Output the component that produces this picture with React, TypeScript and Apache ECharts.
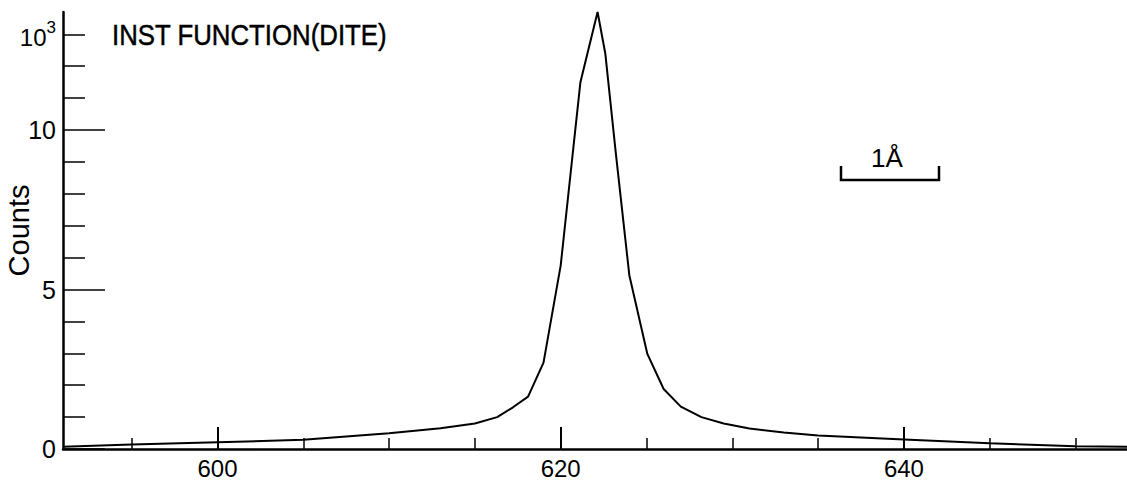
import React, { useEffect, useRef } from "react";
import * as echarts from "echarts";

const xValues = [591, 595, 600, 605, 610, 613, 615, 616.3, 617.2, 618.1, 619.0, 620.0, 621.15, 622.15, 622.6, 623.2, 624.0, 625.05, 626.0, 627.0, 628.2, 629.5, 631, 633, 635, 640, 645, 650, 653];
const yValues = [0.07, 0.14, 0.21, 0.29, 0.49, 0.65, 0.8, 1.0, 1.3, 1.64, 2.71, 5.75, 11.5, 13.7, 12.4, 9.34, 5.45, 2.98, 1.88, 1.33, 1.0, 0.8, 0.64, 0.52, 0.42, 0.3, 0.18, 0.09, 0.07];

const xMajorTicks = [600, 620, 640];
const xMinorTicks = [595, 605, 610, 615, 625, 630, 635, 645, 650];
const yMajorTicks = [0, 5, 10];
const yMinorTicks = [1, 2, 3, 4, 6, 7, 8, 9, 11, 12, 13];
const yLabelValues = [0, 5, 10, 13];

const titleText = "INST FUNCTION(DITE)";
const yName = "Counts";
const scaleText = "1Å";

const FONT = '"Liberation Sans", Arial, sans-serif';

export default function App() {
  const ref = useRef<HTMLDivElement>(null);
  useEffect(() => {
    document.body.style.margin = "0";
    const chart = echarts.init(ref.current!, null, { renderer: "svg" });
    const data = xValues.map((x, i) => [x, yValues[i]]);
    const baseX = {
      type: "value" as const,
      min: 591,
      max: 653,
      gridIndex: 0,
      splitLine: { show: false },
    };
    const baseY = {
      type: "value" as const,
      min: 0,
      max: 13.7,
      gridIndex: 0,
      splitLine: { show: false },
    };
    chart.setOption({
      animation: false,
      backgroundColor: "#fff",
      grid: { left: 63, right: 0, top: 12, bottom: 34, containLabel: false, outerBoundsMode: "none" },
      xAxis: [
        {
          ...baseX,
          axisLine: { show: true, lineStyle: { color: "#000", width: 2.5 } },
          axisTick: { show: true, inside: true, length: 22, customValues: xMajorTicks, lineStyle: { color: "#000", width: 2 } },
          axisLabel: { show: true, customValues: xMajorTicks, color: "#000", fontSize: 24, fontFamily: FONT, margin: 7 },
        },
        {
          ...baseX,
          position: "bottom",
          axisLine: { show: false },
          axisTick: { show: true, inside: true, length: 11, customValues: xMinorTicks, lineStyle: { color: "#000", width: 1.5 } },
          axisLabel: { show: false },
        },
      ],
      yAxis: [
        {
          ...baseY,
          name: yName,
          nameLocation: "middle",
          nameRotate: 90,
          nameGap: 30,
          nameMoveOverlap: false,
          nameTextStyle: { color: "#000", fontSize: 29, fontFamily: FONT },
          axisLine: { show: true, lineStyle: { color: "#000", width: 2.5 } },
          axisTick: { show: true, inside: true, length: 42, customValues: yMajorTicks, lineStyle: { color: "#000", width: 1.5 } },
          axisLabel: {
            show: true,
            customValues: yLabelValues,
            color: "#000",
            fontSize: 25,
            fontFamily: FONT,
            margin: 7,
            formatter: (v: number) => (v === 13 ? "{b|10}{s|3}" : String(v)),
            rich: {
              b: { fontSize: 24, fontFamily: FONT, color: "#000", verticalAlign: "bottom", lineHeight: 30 },
              s: { fontSize: 17, fontFamily: FONT, color: "#000", verticalAlign: "top", lineHeight: 30 },
            },
          },
        },
        {
          ...baseY,
          position: "left",
          axisLine: { show: false },
          axisTick: { show: true, inside: true, length: 22, customValues: yMinorTicks, lineStyle: { color: "#000", width: 1.5 } },
          axisLabel: { show: false },
        },
      ],
      graphic: [
        {
          type: "text",
          x: 112,
          y: 20,
          scaleX: 0.86,
          style: { text: titleText, font: `30px ${FONT}`, fill: "#000", stroke: "#000", lineWidth: 0.5 },
        },
        {
          type: "polyline",
          shape: { points: [[841, 166], [841, 180], [939, 180], [939, 166]] },
          style: { stroke: "#000", lineWidth: 2.5, fill: "none" },
        },
        {
          type: "text",
          x: 871,
          y: 145,
          style: { text: scaleText, font: `26px ${FONT}`, fill: "#000" },
        },
      ],
      series: [
        {
          type: "line",
          xAxisIndex: 0,
          yAxisIndex: 0,
          data,
          symbol: "none",
          smooth: false,
          lineStyle: { color: "#000", width: 2 },
        },
      ],
    });
    return () => chart.dispose();
  }, []);
  return <div ref={ref} style={{ width: 1127, height: 483 }} />;
}
